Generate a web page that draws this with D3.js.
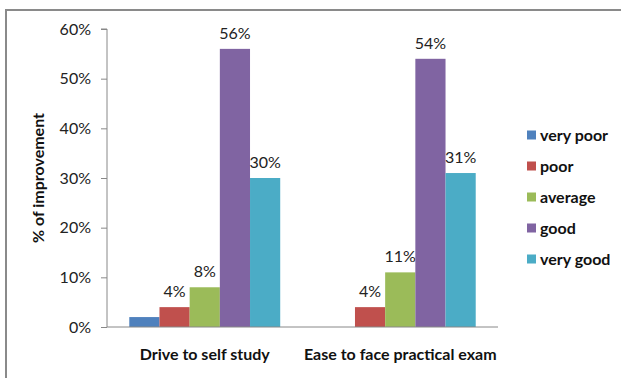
<!DOCTYPE html>
<html><head><meta charset="utf-8">
<script src="https://cdn.jsdelivr.net/npm/d3@7"></script>
<style>body{margin:0;background:#fff}svg{display:block}</style>
</head><body>
<svg id="c" width="621" height="378"></svg>
<script>
const categories = ["Drive to self study", "Ease to face practical exam"];
const seriesNames = ["very poor", "poor", "average", "good", "very good"];
const seriesColors = ["#4F81BD", "#C0504D", "#9BBB59", "#8064A2", "#4BACC6"];
const veryPoor = [0.02, 0];
const poor = [0.04, 0.04];
const average = [0.08, 0.11];
const good = [0.56, 0.54];
const veryGood = [0.30, 0.31];
const showLabel = [[false, false], [true, true], [true, true], [true, true], [true, true]];
const yTicks = [0, 0.1, 0.2, 0.3, 0.4, 0.5, 0.6];
const yTitle = "% of improvement";

(function () {
const values = [veryPoor, poor, average, good, veryGood];
const font = "Lato, 'Open Sans', sans-serif";
const svg = d3.select("#c");

svg.append("rect").attr("x", 6).attr("y", 10).attr("width", 640).attr("height", 400)
  .attr("fill", "#fff").attr("stroke", "#8a8a8a").attr("stroke-width", 2);

const pL = 107, pR = 498, pT = 29, pB = 327;
const x0 = d3.scaleBand().domain(categories).range([pL, pR]).paddingInner(0.228).paddingOuter(0.114);
const x1 = d3.scaleBand().domain(seriesNames).range([0, x0.bandwidth()]);
const y = d3.scaleLinear().domain([0, 0.6]).range([pB, pT]);

const yAxis = svg.append("g").attr("transform", `translate(${pL},0)`)
  .call(d3.axisLeft(y).tickValues(yTicks).tickFormat(d3.format(".0%")).tickSize(6).tickPadding(10));
yAxis.select(".domain").attr("stroke", "#888").attr("d", `M-6,${pT}H0V${pB}`);
yAxis.selectAll(".tick line").attr("stroke", "#888");
yAxis.selectAll("text").attr("font-family", font).attr("font-size", 16).attr("fill", "#222");

const groups = svg.append("g").selectAll("g").data(categories).join("g")
  .attr("transform", d => `translate(${x0(d)},0)`);
seriesNames.forEach((s, si) => {
  groups.append("rect")
    .attr("x", x1(s)).attr("width", x1.bandwidth())
    .attr("y", (d, ci) => y(values[si][ci]))
    .attr("height", (d, ci) => y(0) - y(values[si][ci]))
    .attr("fill", seriesColors[si]);
  groups.filter((d, ci) => showLabel[si][ci]).append("text")
    .attr("x", x1(s) + x1.bandwidth() / 2)
    .attr("y", d => y(values[si][categories.indexOf(d)]) - 10)
    .attr("text-anchor", "middle").attr("font-family", font).attr("font-size", 16).attr("fill", "#222")
    .text(d => d3.format(".0%")(values[si][categories.indexOf(d)]));
});

svg.append("line").attr("x1", pL).attr("x2", pR).attr("y1", pB).attr("y2", pB)
  .attr("stroke", "#888");

svg.append("g").selectAll("text").data(categories).join("text")
  .attr("x", d => x0(d) + x0.bandwidth() / 2).attr("y", 360)
  .attr("text-anchor", "middle").attr("font-family", font).attr("font-size", 16)
  .attr("font-weight", "bold").attr("fill", "#111").text(d => d);

svg.append("text").attr("transform", "translate(44,178) rotate(-90)")
  .attr("text-anchor", "middle").attr("font-family", font).attr("font-size", 16)
  .attr("font-weight", "bold").attr("fill", "#111").text(yTitle);

const leg = svg.append("g").selectAll("g").data(seriesNames).join("g")
  .attr("transform", (d, i) => `translate(527,${135 + i * 31})`);
leg.append("rect").attr("x", 0).attr("y", -4.5).attr("width", 9).attr("height", 9)
  .attr("fill", (d, i) => seriesColors[i]);
leg.append("text").attr("x", 13).attr("y", 5.5).attr("font-family", font).attr("font-size", 16)
  .attr("font-weight", "bold").attr("fill", "#111").text(d => d);
})();
</script>
</body></html>
